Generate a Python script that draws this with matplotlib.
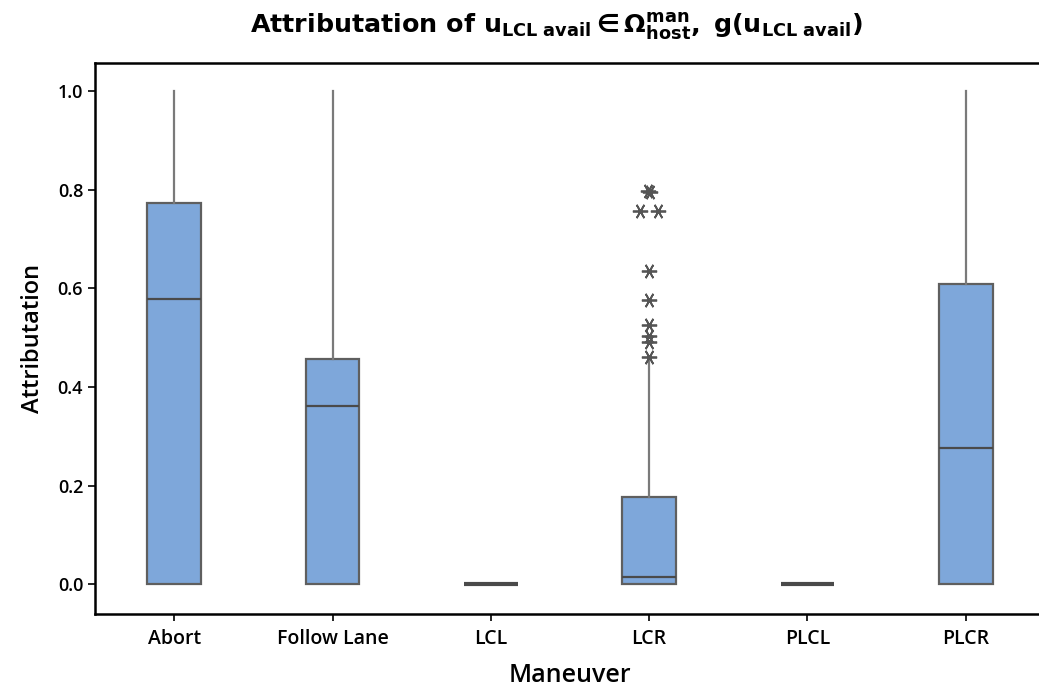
import matplotlib
matplotlib.use("Agg")
import matplotlib.pyplot as plt

# Five-number summaries per maneuver
maneuvers = ["Abort", "Follow Lane", "LCL", "LCR", "PLCL", "PLCR"]
q1 = [0.0, 0.0, 0.0, 0.0, 0.0, 0.0]
median = [0.578, 0.361, 0.0, 0.015, 0.0, 0.277]
q3 = [0.773, 0.456, 0.0, 0.178, 0.0, 0.608]
whislo = [0.0, 0.0, 0.0, 0.0, 0.0, 0.0]
whishi = [1.0, 1.0, 0.0, 0.455, 0.0, 1.0]

# Outliers of LCR (value, horizontal slot for tied values)
lcr_outliers = [0.797, 0.796, 0.757, 0.757, 0.635, 0.576, 0.525, 0.503, 0.492, 0.46]
lcr_slots = [-0.005, 0.005, -0.055, 0.055, 0, 0, 0, 0, 0, 0]

yticks = [0.0, 0.2, 0.4, 0.6, 0.8, 1.0]

plt.rcParams["mathtext.fontset"] = "dejavusans"
plt.rcParams["mathtext.default"] = "bf"

fig = plt.figure(figsize=(10.39, 6.89), dpi=100)
ax = fig.add_axes([95 / 1039, 75 / 689, 950 / 1039, 551 / 689])

box_color = "#7ea7da"
edge = "#5f5f5f"

stats = []
for i, name in enumerate(maneuvers):
    stats.append(dict(label=name, q1=q1[i], med=median[i], q3=q3[i],
                      whislo=whislo[i], whishi=whishi[i], fliers=[]))

positions = list(range(len(maneuvers)))
ax.bxp(stats, positions=positions, widths=0.34, patch_artist=True,
       showcaps=False, showfliers=False,
       boxprops=dict(facecolor=box_color, edgecolor=edge, linewidth=1.6),
       medianprops=dict(color="#4a4a4a", linewidth=1.6),
       whiskerprops=dict(color="#7a7a7a", linewidth=1.6))

# Collapsed boxes (all values zero) drawn as a single heavy line
for i in positions:
    if q3[i] == q1[i]:
        ax.hlines(median[i], i - 0.17, i + 0.17, color="#4a4a4a", linewidth=3, zorder=4)

lcr = maneuvers.index("LCR")
ax.plot([lcr + s for s in lcr_slots], lcr_outliers, linestyle="none",
        marker=(6, 2, 90), markersize=11, markeredgewidth=1.3,
        color="#555555", zorder=5)

ax.set_xlim(-0.5, 5.5)
ax.set_ylim(-0.06, 1.057)
ax.set_yticks(yticks)
ax.set_yticklabels([f"{t:.1f}" for t in yticks])
ax.set_xticks(positions)
ax.set_xticklabels(maneuvers)

for lab in ax.get_xticklabels():
    lab.set_fontfamily("Open Sans")
    lab.set_fontweight("semibold")
    lab.set_fontsize(14)
for lab in ax.get_yticklabels():
    lab.set_fontfamily("Open Sans")
    lab.set_fontweight("semibold")
    lab.set_fontsize(13)

ax.tick_params(axis="both", direction="out", length=5, width=1.2, color="black")
ax.tick_params(axis="x", pad=6)
ax.spines["right"].set_visible(False)
for s in ["left", "top", "bottom"]:
    ax.spines[s].set_linewidth(1.8)

ax.set_xlabel("Maneuver", fontfamily="Open Sans", fontweight="semibold", fontsize=18, labelpad=10)
ax.set_ylabel("Attributation", fontfamily="Open Sans", fontweight="semibold", fontsize=17, labelpad=9)

fig.text(0.535, 0.961,
         r"Attributation of $u_{LCL\ avail} \in \Omega_{host}^{man},\ g(u_{LCL\ avail})$",
         ha="center", va="center", fontsize=18.3, fontweight="bold")

fig.savefig("out.png", dpi=100)
